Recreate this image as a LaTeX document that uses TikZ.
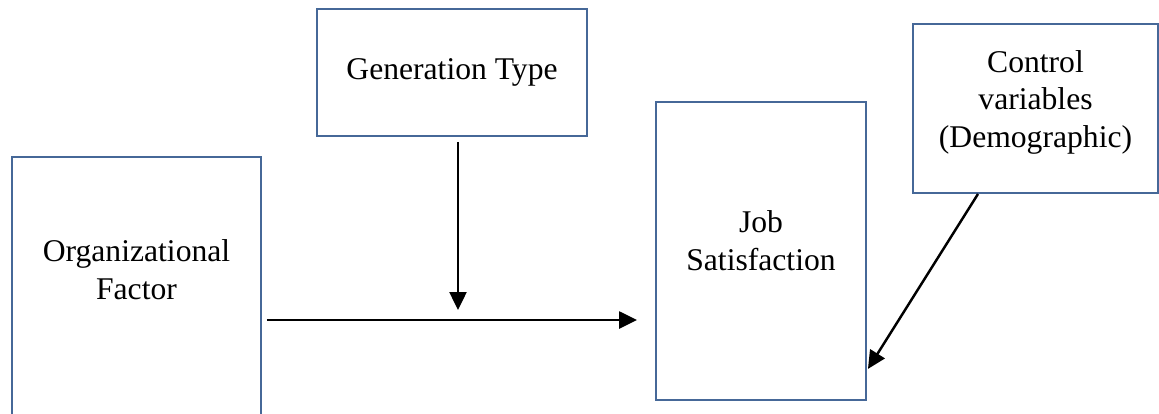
\documentclass[tikz,border=0pt]{standalone}
\usepackage{fontspec}
\setmainfont{Liberation Serif}
\usetikzlibrary{calc}
\usetikzlibrary{arrows.meta}

\definecolor{boxblue}{RGB}{70,104,152}

\begin{document}
\begin{tikzpicture}[x=0.02cm, y=-0.02cm,
	font=\fontsize{18}{21.6}\selectfont,
	var box/.style={draw=boxblue, line width=1.1pt, rectangle, inner sep=0pt},
	var text/.style={align=center},
	link/.style={line width=1.4pt, -{Triangle[length=0.36cm,width=0.34cm]}}]
	
	\useasboundingbox (0,0) rectangle (1159,413);
	
	% boxes
	\node[var box, minimum width=4.98cm, minimum height=5.46cm] (Org) at (136.5,293.5) {};
	\node[var text] (OrgText) at (136.5,270) {Organizational\\Factor};
	\node[var box, var text, minimum width=5.4cm, minimum height=2.54cm] (Gen) at (452,72.5) {Generation Type};
	\node[var box, var text, minimum width=4.2cm, minimum height=5.96cm] (Job) at (761,251) {Job\\Satisfaction\\[-0.55em]};
	\node[var box, var text, minimum width=4.9cm, minimum height=3.38cm] (Ctrl) at (1035.5,108.5) {Control\\variables\\(Demographic)\\[-0.6em]};
	
	% links
	\coordinate (Lvl) at (458,320);
	\draw[link, shorten <=0.1cm, shorten >=0.36cm] (Org.east |- Lvl) -- (Job.west |- Lvl);
	\draw[link, shorten <=0.1cm, shorten >=0.2cm] (Lvl |- Gen.south) -- (Lvl);
	\draw[link] ($(Ctrl.south)+(-57.5,0)$) -- ($(Job.south east)+(1,-32)$);
\end{tikzpicture}
\end{document}
